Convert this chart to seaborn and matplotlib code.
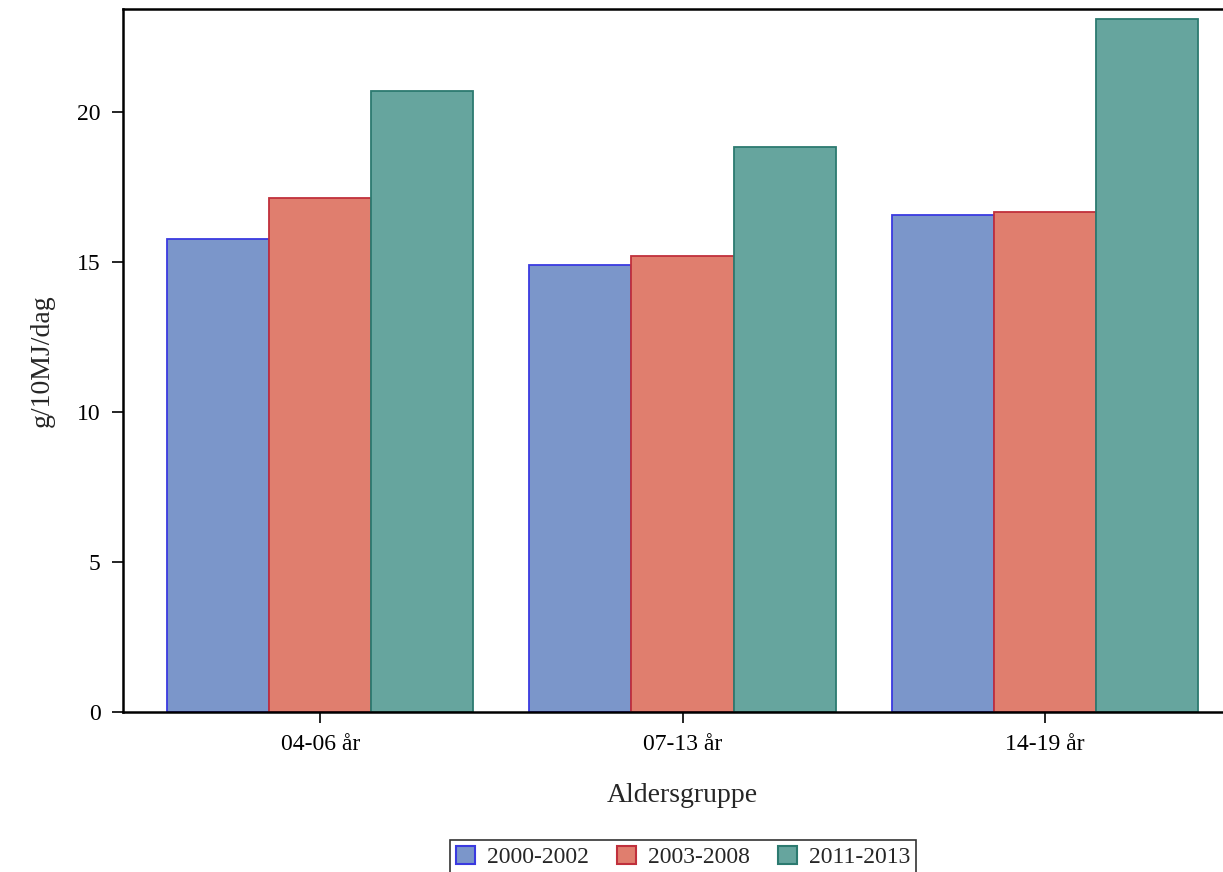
import numpy as np
import pandas as pd
import matplotlib
matplotlib.use('Agg')
import matplotlib.pyplot as plt
import seaborn as sn

# data
age_groups = ['04-06 år', '07-13 år', '14-19 år']
periods = ['2000-2002', '2003-2008', '2011-2013']
v_2000_2002 = [15.75, 14.9, 16.57]
v_2003_2008 = [17.13, 15.2, 16.67]
v_2011_2013 = [20.7, 18.83, 23.1]

fill_colors = ['#7B96CA', '#E07E6E', '#66A59E']
edge_colors = ['#3A3AE0', '#C0303C', '#2C7A70']

df = pd.DataFrame({
    'Aldersgruppe': age_groups * 3,
    'periode': np.repeat(periods, 3),
    'verdi': v_2000_2002 + v_2003_2008 + v_2011_2013,
})

sn.set_style('white')
plt.rcParams['font.family'] = ['Liberation Serif', 'DejaVu Serif']

fig = plt.figure(figsize=(12.23, 8.72), dpi=100)
ax = fig.add_axes([123 / 1223, 1 - 712 / 872, (1242 - 123) / 1223, (712 - 9) / 872])

sn.barplot(data=df, x='Aldersgruppe', y='verdi', hue='periode',
           hue_order=periods, palette=fill_colors, width=0.845,
           saturation=1, errorbar=None, ax=ax)

# per-series edge colours
for cont, ec in zip(ax.containers, edge_colors):
    for bar in cont:
        bar.set_edgecolor(ec)
        bar.set_linewidth(1.3)

ax.set_xlim(-0.544, 2.544)
ax.set_ylim(0, 23.43)
ax.set_yticks([0, 5, 10, 15, 20])

for side in ['left', 'bottom', 'top']:
    ax.spines[side].set_color('black')
    ax.spines[side].set_linewidth(1.8)
ax.spines['right'].set_visible(False)

ax.tick_params(axis='both', direction='out', length=8, width=1.2,
               colors='black', labelsize=17, left=True, bottom=True)
ax.tick_params(axis='x', pad=8)
ax.tick_params(axis='y', pad=8)
ax.set_xlabel('Aldersgruppe', fontsize=20, labelpad=20)
ax.set_ylabel('g/10MJ/dag', fontsize=20, labelpad=16)

# legend under the plot with a black frame
handles, labels = ax.get_legend_handles_labels()
for h, ec in zip(handles, edge_colors):
    h.set_edgecolor(ec)
    h.set_linewidth(1.5)
ax.legend(handles, labels, loc='lower center', ncol=3, frameon=True,
          bbox_to_anchor=(683 / 1223, -0.002), bbox_transform=fig.transFigure,
          fontsize=17, fancybox=False, edgecolor='black', handlelength=0.8,
          handleheight=0.8, handletextpad=0.5, columnspacing=1.2,
          borderpad=0.25, borderaxespad=0.0)
ax.get_legend().get_frame().set_linewidth(1.2)

plt.savefig('out.png', dpi=100)
